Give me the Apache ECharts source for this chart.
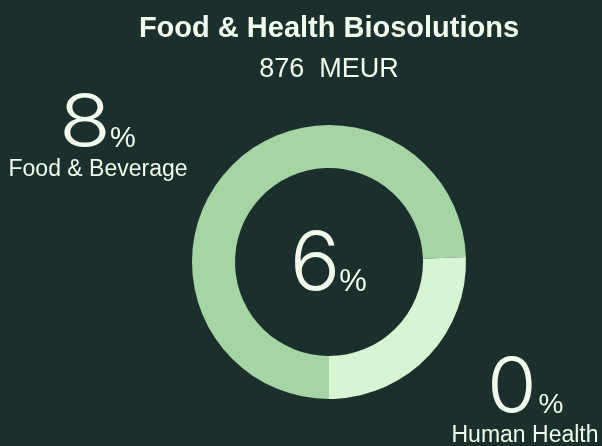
<!DOCTYPE html>
<html>
<head>
<meta charset="utf-8">
<script src="https://cdn.jsdelivr.net/npm/echarts@6/dist/echarts.min.js"></script>
<style>
  html, body { margin: 0; padding: 0; background: #1b2f2d; }
  #main { width: 602px; height: 446px; }
</style>
</head>
<body>
<div id="main"></div>
<script>
// segment data
var categories = ["Food & Beverage", "Human Health"];
var values = [652, 224];
var growth = [8, 0];
var totalGrowth = 6;
var total = 876;
var colors = ["#a5d5a5", "#d6f5d2"];

var textColor = "#f2fcec";
var sans = "'Liberation Sans', Arial, sans-serif";
var thin = "Inter, 'Liberation Sans', sans-serif";

// label spots for each segment (number, percent sign, name)
var labelPos = [
  { nx: 85, ny: 124, ns: 72, sx: 1.18, px: 123, py: 139, ps: 29, tx: 98, ty: 170 },
  { nx: 512, ny: 389, ns: 76, sx: 1.06, px: 551, py: 405, ps: 28, tx: 525, ty: 436 }
];

var myChart = echarts.init(document.getElementById("main"));

function txt(x, y, text, font, sx) {
  return {
    type: "text", x: x, y: y, silent: true,
    scaleX: sx || 1,
    style: { text: text, fill: textColor, font: font, align: "center", verticalAlign: "middle" }
  };
}

var graphics = [
  txt(329, 29, "Food & Health Biosolutions", "bold 29px " + sans),
  txt(329, 70, total + "  MEUR", "27px " + sans)
];
categories.forEach(function (name, i) {
  var p = labelPos[i];
  graphics.push(txt(p.nx, p.ny, String(growth[i]), "300 " + p.ns + "px " + thin, p.sx));
  graphics.push(txt(p.px, p.py, "%", p.ps + "px " + sans));
  graphics.push(txt(p.tx, p.ty, name, "23px " + sans));
});
// center value
graphics.push(txt(315, 266, String(totalGrowth), "300 81px " + thin, 1.04));
graphics.push(txt(353, 282, "%", "31px " + sans));

var option = {
  backgroundColor: "#1b2f2d",
  animation: false,
  graphic: graphics,
  series: [
    {
      type: "pie",
      center: [329, 262],
      radius: [94, 137],
      startAngle: 270,
      clockwise: true,
      silent: true,
      label: { show: false },
      labelLine: { show: false },
      itemStyle: { borderWidth: 0 },
      data: categories.map(function (name, i) {
        return { name: name, value: values[i], itemStyle: { color: colors[i] } };
      })
    }
  ]
};

myChart.setOption(option);
</script>
</body>
</html>
